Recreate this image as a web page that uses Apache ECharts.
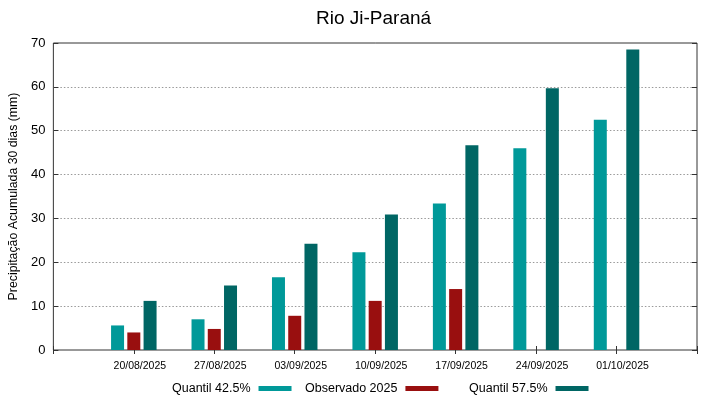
<!DOCTYPE html>
<html>
<head>
<meta charset="utf-8">
<script src="https://cdn.jsdelivr.net/npm/echarts@6/dist/echarts.min.js"></script>
<style>
html,body{margin:0;padding:0;background:#fff;}
#c{width:719px;height:399px;}
</style>
</head>
<body>
<div id="c"></div>
<script>
const categories = ['20/08/2025','27/08/2025','03/09/2025','10/09/2025','17/09/2025','24/09/2025','01/10/2025'];
const q425 = [5.6, 7.0, 16.6, 22.3, 33.4, 46.0, 52.5];
const obs2025 = [4.0, 4.8, 7.8, 11.2, 13.9, null, null];
const q575 = [11.2, 14.7, 24.2, 30.9, 46.7, 59.7, 68.5];
const yTicks = [0, 10, 20, 30, 40, 50, 60, 70];

const seriesNames = ['Quantil 42.5%', 'Observado 2025', 'Quantil 57.5%'];
const colors = ['#009999', '#990f0f', '#006664'];

function pad(arr, v) { return [v].concat(arr, [v]); }
const xCats = pad(categories, '');

const font = 'Liberation Sans, Arial, sans-serif';
const chart = echarts.init(document.getElementById('c'), null, {renderer: 'canvas'});

const xBase = {
  type: 'category', data: xCats, boundaryGap: false,
  axisLine: {show: false},
  axisTick: {show: true, inside: true, length: 4, alignWithLabel: true, lineStyle: {color: '#333', width: 1}},
  splitLine: {show: false}
};
const yBase = {
  type: 'value', min: yTicks[0], max: yTicks[yTicks.length - 1], interval: yTicks[1] - yTicks[0],
  axisLine: {show: false},
  axisTick: {show: true, inside: true, length: 5, lineStyle: {color: '#333', width: 1}}
};

function legend(i, left) {
  return {
    data: [seriesNames[i]], left: left, top: 382, align: 'right', padding: 0,
    icon: 'rect', itemWidth: 33, itemHeight: 5,
    textStyle: {fontFamily: font, fontSize: 12.5, color: '#000', padding: [0, 3, 0, 0]},
    selectedMode: false
  };
}

chart.setOption({
  animation: false,
  backgroundColor: '#fff',
  title: {
    text: 'Rio Ji-Paraná', left: 316, top: 4, padding: [5, 0, 5, 0],
    textStyle: {fontFamily: font, fontSize: 19, fontWeight: 'normal', color: '#000'}
  },
  legend: [legend(0, 172), legend(1, 305), legend(2, 469)],
  grid: {left: 51, right: 22, top: 43, bottom: 49, show: true, borderColor: '#333', borderWidth: 1, backgroundColor: 'transparent'},
  xAxis: [
    Object.assign({}, xBase, {
      position: 'bottom',
      axisLabel: {interval: 0, fontFamily: font, fontSize: 10.5, color: '#000', margin: 11, padding: [0, 0, 0, 12]}
    }),
    Object.assign({}, xBase, {position: 'top', axisLabel: {show: false}})
  ],
  yAxis: [
    Object.assign({}, yBase, {
      position: 'left',
      axisLabel: {fontFamily: font, fontSize: 13, color: '#000', margin: 8},
      splitLine: {show: true, showMinLine: false, showMaxLine: false, lineStyle: {color: '#999', type: [1.5, 2], width: 1}},
      name: 'Precipitação Acumulada 30 dias (mm)', nameLocation: 'middle', nameGap: 29,
      nameTextStyle: {fontFamily: font, fontSize: 12.3, color: '#000'}
    }),
    Object.assign({}, yBase, {position: 'right', axisLabel: {show: false}, splitLine: {show: false}})
  ],
  series: [q425, obs2025, q575].map((d, i) => ({
    name: seriesNames[i], type: 'bar', data: pad(d, null),
    xAxisIndex: 0, yAxisIndex: 0,
    barWidth: 13, barGap: '25%',
    itemStyle: {color: colors[i]}
  }))
});
</script>
</body>
</html>
